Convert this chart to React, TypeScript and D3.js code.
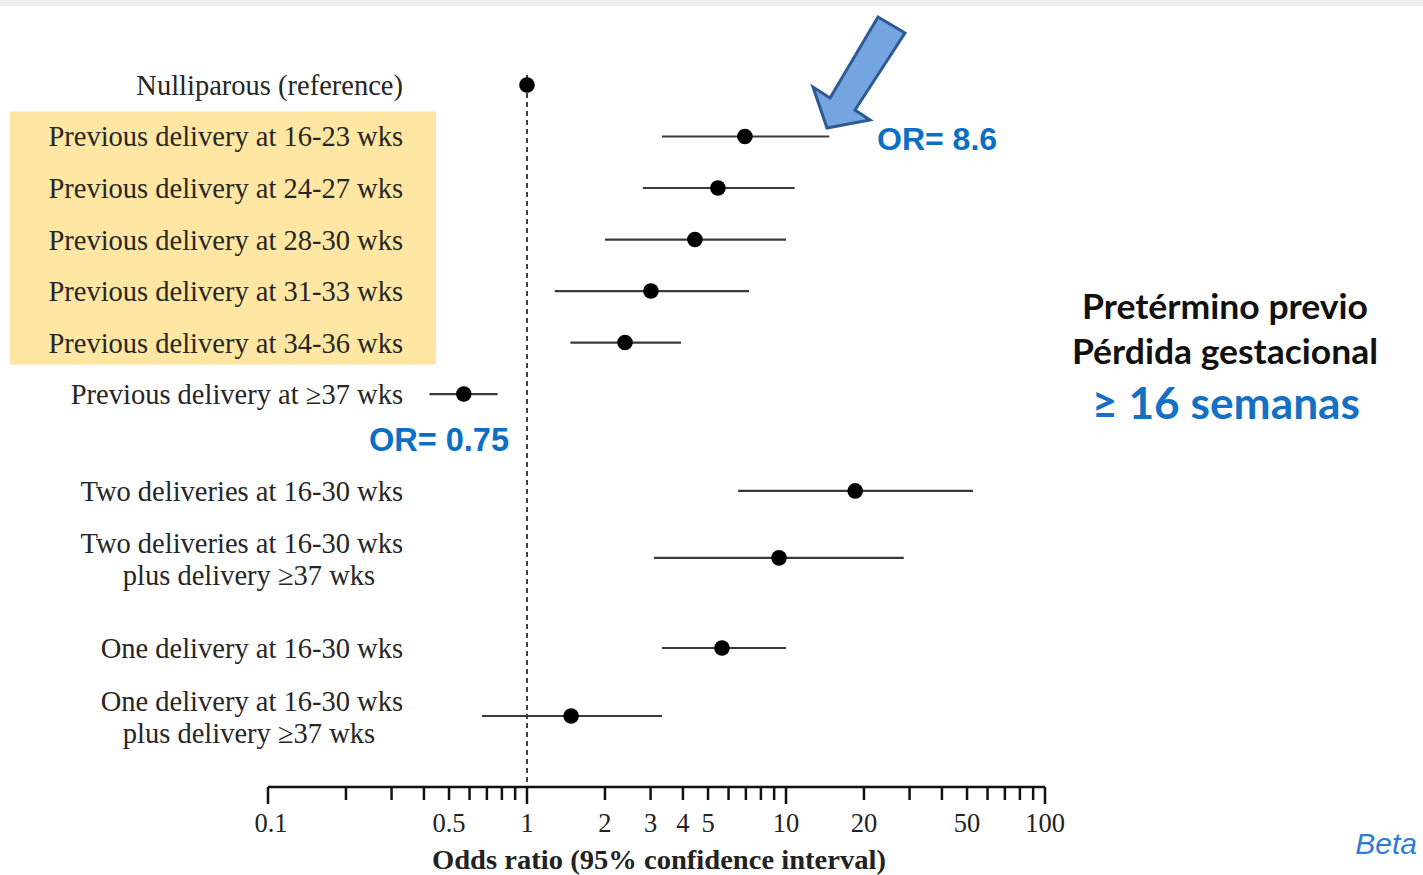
import React from "react";
import * as d3 from "d3";

// ---- data ----
const labelsLine1 = [
  "Nulliparous (reference)",
  "Previous delivery at 16-23 wks",
  "Previous delivery at 24-27 wks",
  "Previous delivery at 28-30 wks",
  "Previous delivery at 31-33 wks",
  "Previous delivery at 34-36 wks",
  "Previous delivery at \u226537 wks",
  "Two deliveries at 16-30 wks",
  "Two deliveries at 16-30 wks",
  "One delivery at 16-30 wks",
  "One delivery at 16-30 wks",
];
const labelsLine2 = ["", "", "", "", "", "", "", "", "plus delivery \u226537 wks", "", "plus delivery \u226537 wks"];
// row order position (gaps between groups)
const rowPos = [0, 1, 2, 3, 4, 5, 6, 7.88, 9.18, 10.93, 12.25];
const orPoint = [1, 6.94, 5.46, 4.45, 3.01, 2.39, 0.57, 18.5, 9.4, 5.66, 1.48];
const ciLow = [null, 3.32, 2.8, 2.0, 1.28, 1.47, 0.42, 6.53, 3.09, 3.32, 0.67];
const ciHigh = [null, 14.7, 10.8, 10.0, 7.2, 3.93, 0.77, 52.7, 28.5, 10.0, 3.32];
const highlighted = [false, true, true, true, true, true, false, false, false, false, false];

const tickLabels = [0.1, 0.5, 1, 2, 3, 4, 5, 10, 20, 50, 100];
const majorTicks = [0.1, 1, 10, 100];
const minorTicks = [
  0.2, 0.3, 0.4, 0.5, 0.6, 0.7, 0.8, 0.9,
  2, 3, 4, 5, 6, 7, 8, 9,
  20, 30, 40, 50, 60, 70, 80, 90,
];
const axisTitle = "Odds ratio (95% confidence interval)";
const annotHigh = "OR= 8.6";
const annotLow = "OR= 0.75";
const sideLines = ["Pretérmino previo", "Pérdida gestacional", "\u2265 16 semanas"];

export default function App() {
  const W = 1423;
  const H = 875;
  const x = d3.scaleLog().domain([0.1, 100]).range([268, 1045]);
  const y = d3.scaleLinear().domain([0, 12.25]).range([85, 716]);
  const axisY = 787;
  const serif = "'Liberation Serif', 'Times New Roman', serif";
  const sans = "'Liberation Sans', Arial, sans-serif";
  const fmt = (v: number) => String(v);

  const hiRows = rowPos.filter((_, i) => highlighted[i]);
  const hiTop = y(d3.min(hiRows)!) - 25;
  const hiBot = y(d3.max(hiRows)!) + 22;

  return (
    <div style={{ position: "absolute", left: 0, top: 0, width: W, height: H, background: "#fff" }}>
      <svg width={W} height={H} style={{ display: "block" }}>
        <rect x={0} y={0} width={W} height={6} fill="#f0f0f0" />
        {/* highlight box */}
        <rect x={10} y={hiTop} width={426} height={hiBot - hiTop} fill="#FFE6A3" />

        {/* reference dashed line */}
        <line x1={x(1)} x2={x(1)} y1={y(0) - 10} y2={axisY} stroke="#111" strokeWidth={1.6} strokeDasharray="5,4" />

        {/* row labels */}
        {labelsLine1.map((l, i) => {
          const two = labelsLine2[i] !== "";
          const cy = y(rowPos[i]);
          return (
            <g key={i} fontFamily={serif} fontSize={28.5} fill="#262626">
              <text x={403} y={two ? cy - 15 : cy} dy="0.35em" textAnchor="end">
                {l}
              </text>
              {two && (
                <text x={249} y={cy + 17} dy="0.35em" textAnchor="middle">
                  {labelsLine2[i]}
                </text>
              )}
            </g>
          );
        })}

        {/* CIs and points */}
        {orPoint.map((v, i) => {
          const cy = y(rowPos[i]);
          const lo = ciLow[i];
          const hi = ciHigh[i];
          return (
            <g key={i}>
              {lo !== null && hi !== null && (
                <line x1={x(lo)} x2={x(hi)} y1={cy} y2={cy} stroke="#3a3a3a" strokeWidth={2.2} />
              )}
              <circle cx={x(v)} cy={cy} r={7.8} fill="#000" />
            </g>
          );
        })}

        {/* axis */}
        <line x1={x(0.1)} x2={x(100)} y1={axisY} y2={axisY} stroke="#111" strokeWidth={2.5} />
        {majorTicks.map((t) => (
          <line key={"M" + t} x1={x(t)} x2={x(t)} y1={axisY} y2={axisY + 17} stroke="#111" strokeWidth={2.5} />
        ))}
        {minorTicks.map((t) => (
          <line key={"m" + t} x1={x(t)} x2={x(t)} y1={axisY} y2={axisY + 13} stroke="#111" strokeWidth={2.5} />
        ))}
        {tickLabels.map((t) => (
          <text
            key={"l" + t}
            x={x(t) + (t === 0.1 ? 3 : 0)}
            y={823}
            dy="0.35em"
            textAnchor="middle"
            fontFamily={serif}
            fontSize={26.5}
            fill="#222"
          >
            {fmt(t)}
          </text>
        ))}
        <text x={659} y={859} dy="0.35em" textAnchor="middle" fontFamily={serif} fontSize={28} fontWeight="bold" fill="#222" textLength={454} lengthAdjust="spacingAndGlyphs">
          {axisTitle}
        </text>

        {/* arrow */}
        <polygon
          points="878,17 905,33 855,110 870,120 827,128 813,87 830,98"
          fill="#74A5E0"
          stroke="#2E5A93"
          strokeWidth={3}
          strokeLinejoin="miter"
        />

        {/* OR annotations */}
        <text x={877} y={139} dy="0.35em" fontFamily={sans} fontWeight="bold" fontSize={32} fill="#0B6FC6">
          {annotHigh}
        </text>
        <text x={369} y={440} dy="0.35em" fontFamily={sans} fontWeight="bold" fontSize={32.5} fill="#0B6FC6">
          {annotLow}
        </text>

        {/* side text */}
        <g fontFamily="Lato, 'Open Sans', sans-serif" fontWeight="bold" lengthAdjust="spacingAndGlyphs">
          <text x={1082} y={307} dy="0.35em" fontSize={34} fill="#111" textLength={286} lengthAdjust="spacingAndGlyphs">
            {sideLines[0]}
          </text>
          <text x={1072} y={352} dy="0.35em" fontSize={34} fill="#111" textLength={306} lengthAdjust="spacingAndGlyphs">
            {sideLines[1]}
          </text>
          <text x={1092} y={404} dy="0.35em" fontSize={43} fill="#1470C4" textLength={268} lengthAdjust="spacingAndGlyphs">
            {sideLines[2]}
          </text>
        </g>

        <text x={1417} y={843} dy="0.35em" textAnchor="end" fontFamily={sans} fontStyle="italic" fontSize={30} fill="#2F7BD8">
          Beta
        </text>
      </svg>
    </div>
  );
}
